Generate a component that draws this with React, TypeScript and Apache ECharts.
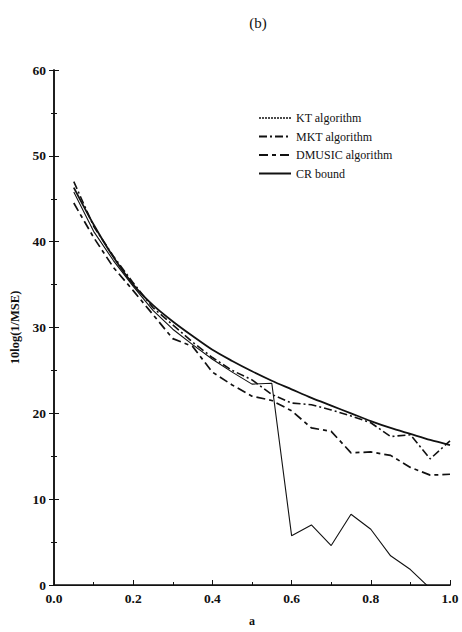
import React, { useEffect, useRef } from "react";
import * as echarts from "echarts";

const aValues = [0.05, 0.1, 0.15, 0.2, 0.25, 0.3, 0.35, 0.4, 0.45, 0.5, 0.55, 0.6, 0.65, 0.7, 0.75, 0.8, 0.85, 0.9, 0.95, 1.0];
const ktValues = [45.8, 41.2, 37.8, 34.8, 32.0, 29.8, 28.0, 26.3, 24.8, 23.4, 23.5, 5.75, 7.0, 4.6, 8.25, 6.5, 3.4, 1.8, -0.4, null];
const mktValues = [47.0, 41.8, 38.3, 35.2, 32.3, 30.3, 28.3, 26.5, 25.0, 23.9, 22.2, 21.2, 21.0, 20.4, 19.7, 18.9, 17.3, 17.5, 14.7, 16.8];
const dmusicValues = [44.5, 40.5, 37.0, 34.3, 31.5, 28.7, 27.8, 24.8, 23.3, 22.0, 21.5, 20.3, 18.3, 17.9, 15.4, 15.5, 15.1, 13.7, 12.8, 12.9];
const crValues = [46.3, 42.0, 38.2, 35.0, 32.6, 30.7, 29.0, 27.4, 26.1, 24.9, 23.8, 22.8, 21.8, 20.9, 20.0, 19.1, 18.3, 17.6, 16.9, 16.3];
const seriesNames = ["KT algorithm", "MKT algorithm", "DMUSIC algorithm", "CR bound"];

const toPairs = (vals: (number | null)[]) =>
  aValues.map((a, i) => [a, vals[i]]).filter((p) => p[1] !== null);

const FONT = "'Liberation Serif', 'DejaVu Serif', serif";
const INK = "#111";

export default function App() {
  const ref = useRef<HTMLDivElement>(null);
  useEffect(() => {
    if (!ref.current) return;
    const chart = echarts.init(ref.current, null, { renderer: "svg" });
    const tickLabel = { color: INK, fontFamily: FONT, fontWeight: "bold" as const, fontSize: 13.5 };
    chart.setOption({
      animation: false,
      backgroundColor: "#fff",
      title: {
        text: "(b)",
        left: 253,
        top: 10,
        textAlign: "center",
        textStyle: { fontFamily: FONT, fontWeight: "normal", fontSize: 15, color: INK },
      },
      legend: {
        orient: "vertical",
        left: 253,
        top: 107,
        itemWidth: 32,
        itemHeight: 12,
        itemGap: 6.5,
        itemStyle: { color: "transparent", borderWidth: 0, opacity: 0 },
        textStyle: { fontFamily: FONT, fontSize: 12, color: INK },
        data: [
          { name: seriesNames[0], lineStyle: { type: [2, 1], width: 1.6, color: INK } },
          { name: seriesNames[1] },
          { name: seriesNames[2] },
          { name: seriesNames[3] },
        ],
      },
      grid: { left: 53, right: 12, top: 70, bottom: 44 },
      xAxis: [
        {
          type: "value",
          min: 0,
          max: 1,
          interval: 0.2,
          name: "a",
          nameLocation: "middle",
          nameGap: 30,
          nameTextStyle: { fontFamily: FONT, fontWeight: "bold", fontSize: 12, color: INK },
          axisLine: { lineStyle: { color: INK, width: 1.5 } },
          axisTick: { inside: true, length: 5, lineStyle: { color: INK } },
          minorTick: { show: true, splitNumber: 2, length: 3, lineStyle: { color: INK } },
          axisLabel: { ...tickLabel, margin: 6, formatter: (v: number) => v.toFixed(1) },
          splitLine: { show: false },
        },
        {
          type: "value",
          min: 0,
          max: 1,
          interval: 0.2,
          position: "top",
          axisLine: { show: true, lineStyle: { color: INK, width: 1.2 } },
          axisTick: { show: false },
          axisLabel: { show: false },
          splitLine: { show: false },
        },
      ],
      yAxis: [
        {
          type: "value",
          min: 0,
          max: 60,
          interval: 10,
          name: "10log(1/MSE)",
          nameLocation: "middle",
          nameGap: 33,
          nameTextStyle: { fontFamily: FONT, fontWeight: "bold", fontSize: 12.5, color: INK },
          axisLine: { show: true, lineStyle: { color: INK, width: 1.5 } },
          axisTick: { show: true, inside: true, length: 5, lineStyle: { color: INK } },
          minorTick: { show: true, splitNumber: 2, length: 3, lineStyle: { color: INK } },
          axisLabel: { ...tickLabel, margin: 8 },
          splitLine: { show: false },
        },
        {
          type: "value",
          min: 0,
          max: 60,
          interval: 10,
          position: "right",
          axisLine: { show: true, lineStyle: { color: INK, width: 1.5 } },
          axisTick: { show: true, inside: true, length: 5, lineStyle: { color: INK } },
          minorTick: { show: true, splitNumber: 2, length: 3, lineStyle: { color: INK } },
          axisLabel: { show: false },
          splitLine: { show: false },
        },
      ],
      series: [
        {
          name: seriesNames[0],
          type: "line",
          data: toPairs(ktValues),
          symbol: "none",
          clip: true,
          lineStyle: { color: INK, width: 1.1, type: "solid" },
          itemStyle: { color: INK },
        },
        {
          name: seriesNames[1],
          type: "line",
          data: toPairs(mktValues),
          symbol: "none",
          lineStyle: { color: INK, width: 1.6, type: [8, 3, 2, 3] },
          itemStyle: { color: INK },
        },
        {
          name: seriesNames[2],
          type: "line",
          data: toPairs(dmusicValues),
          symbol: "none",
          lineStyle: { color: INK, width: 1.7, type: [9, 4, 4, 4] },
          itemStyle: { color: INK },
        },
        {
          name: seriesNames[3],
          type: "line",
          data: toPairs(crValues),
          symbol: "none",
          smooth: 0.3,
          lineStyle: { color: INK, width: 1.8, type: "solid" },
          itemStyle: { color: INK },
        },
      ],
    });
    return () => chart.dispose();
  }, []);
  return <div ref={ref} style={{ width: 462, height: 632, position: "absolute", left: 0, top: 0 }} />;
}
